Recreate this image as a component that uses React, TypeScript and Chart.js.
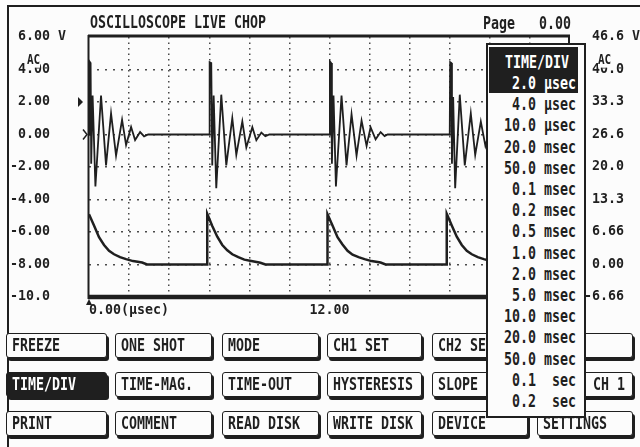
import React, { useEffect, useRef } from 'react';
import { Chart, registerables } from 'chart.js';

Chart.register(...registerables);

// ---------- data ----------
// CH1: ringing after each chop pulse (left axis, volts), time in µs
const ch1Times = [
  0, 0.02, 0.08, 0.11, 0.18, 0.32, 0.6, 0.85, 1.1, 1.35, 1.65, 1.85, 2.1, 2.3, 2.55, 2.75, 2.95,
  6.0, 6.02, 6.1, 6.15, 6.22, 6.35, 6.6, 6.85, 7.15, 7.35, 7.65, 7.85, 8.15, 8.35, 8.6, 8.8, 9.0,
  12.0, 12.02, 12.08, 12.12, 12.2, 12.32, 12.6, 12.85, 13.1, 13.35, 13.6, 13.85, 14.05, 14.3, 14.55, 14.75, 14.9,
  18.0, 18.02, 18.08, 18.11, 18.17, 18.27, 18.5, 18.75, 19.05, 19.27, 19.55, 19.78, 20.05, 20.25, 20.5, 20.7, 20.9, 24.0,
];
const ch1Volts = [
  0, 4.5, 4.4, -1.8, 2.4, -3.2, 2.4, -1.9, 1.3, -1.3, 0.9, -0.65, 0.46, -0.34, 0.15, -0.12, 0,
  0, 4.45, 4.4, -1.9, 2.4, -3.3, 2.45, -1.9, 1.0, -1.25, 0.8, -0.8, 0.45, -0.35, 0.12, -0.1, 0,
  0, 4.5, 4.4, -1.8, 2.4, -3.2, 2.4, -1.9, 1.25, -1.3, 0.85, -0.7, 0.45, -0.3, 0.15, -0.1, 0,
  0, 4.45, 4.4, -1.8, 2.3, -3.3, 2.45, -1.9, 1.3, -1.25, 0.8, -0.7, 0.45, -0.35, 0.15, -0.1, 0, 0,
];
// CH2: decaying chop voltage (right axis, volts), time in µs
const ch2Times = [
  0, 0.25, 0.5, 0.75, 1.0, 1.25, 1.55, 1.85, 2.2, 2.65, 2.9, 5.9,
  5.9, 6.15, 6.4, 6.65, 6.9, 7.15, 7.45, 7.75, 8.1, 8.55, 8.8, 11.9,
  11.9, 12.15, 12.4, 12.65, 12.9, 13.15, 13.45, 13.75, 14.1, 14.55, 14.8, 17.85,
  17.85, 18.1, 18.35, 18.6, 18.85, 19.1, 19.4, 19.7, 20.05, 20.5, 20.75, 24.0,
];
const ch2Volts = [
  10.3, 8.0, 5.6, 4.0, 2.8, 2.1, 1.5, 1.1, 0.7, 0.4, 0, 0,
  10.4, 7.9, 5.7, 4.0, 2.9, 2.1, 1.5, 1.0, 0.7, 0.35, 0, 0,
  10.3, 8.0, 5.6, 4.1, 2.8, 2.0, 1.5, 1.1, 0.7, 0.4, 0, 0,
  10.4, 8.0, 5.7, 4.0, 2.8, 2.1, 1.5, 1.1, 0.7, 0.4, 0, 0,
];
const xTickValues = [0, 2, 4, 6, 8, 10, 12, 14, 16, 18, 20, 22, 24];
const xTickLabels = ['0.00(\u00b5sec)', '', '', '', '', '', '12.00', '', '', '', '', '', ''];
const leftTickValues = [-10, -8, -6, -4, -2, 0, 2, 4, 6];
const leftTickLabels = ['-10.0', '-8.00', '-6.00', '-4.00', '-2.00', ' 0.00', ' 2.00', ' 4.00', ' 6.00 V'];
const rightTickValues = [-6.66, 0, 6.66, 13.32, 19.98, 26.64, 33.3, 39.96, 46.62];
const rightTickLabels = ['-6.66', ' 0.00', ' 6.66', ' 13.3', ' 20.0', ' 26.6', ' 33.3', ' 40.0', ' 46.6 V'];
const ch1TriggerLevel = 2.0;
const triggerTime = 0;
const timeDivOptions = [
  ' 2.0 \u00b5sec', ' 4.0 \u00b5sec', '10.0 \u00b5sec', '20.0 msec', '50.0 msec', ' 0.1 msec', ' 0.2 msec',
  ' 0.5 msec', ' 1.0 msec', ' 2.0 msec', ' 5.0 msec', '10.0 msec', '20.0 msec', '50.0 msec', ' 0.1  sec', ' 0.2  sec',
];
const buttonRows = [
  ['FREEZE', 'ONE SHOT', 'MODE', 'CH1 SET', 'CH2 SET', ''],
  ['TIME/DIV', 'TIME-MAG.', 'TIME-OUT', 'HYSTERESIS', 'SLOPE', 'CH 1'],
  ['PRINT', 'COMMENT', 'READ DISK', 'WRITE DISK', 'DEVICE', 'SETTINGS'],
];

// ---------- styles ----------
const INK = '#1f1f1f';
const BG = '#fcfcfc';
const GRID = '#4a4a4a';
const MONO = '"DejaVu Sans Mono", "Liberation Mono", monospace';
const TICK_FONT = { family: MONO, size: 13.3, weight: 'bold' as const };

type TP = { left?: number; right?: number; cy: number; text: string; color?: string; size?: number; sy?: number; bg?: string };
function Txt({ left, right, cy, text, color = INK, size = 13.3, sy = 1.35, bg }: TP) {
  const h = Math.round(size * 1.2);
  const st: React.CSSProperties = {
    position: 'absolute', top: cy - h / 2, height: h, lineHeight: h + 'px', fontFamily: MONO,
    fontWeight: 700, fontSize: size, color, whiteSpace: 'pre', transform: `scaleY(${sy})`,
    transformOrigin: '50% 50%', background: bg, margin: 0, padding: 0,
  };
  if (left !== undefined) st.left = left;
  if (right !== undefined) st.right = right;
  return <div style={st}>{text}</div>;
}

const colLefts = [6, 115, 222, 327, 432, 537];
const colWidths = [101, 97, 97, 95, 96, 96];
const rowTops = [333, 372, 411];

function Btn({ x, y, w, label, inv, alignRight }: { x: number; y: number; w: number; label: string; inv?: boolean; alignRight?: boolean }) {
  return (
    <div style={{
      position: 'absolute', left: x, top: y, width: w, height: 25, boxSizing: 'border-box',
      border: `1.5px solid ${INK}`, borderRadius: 3, boxShadow: `2px 3px 0 ${INK}`, background: inv ? INK : BG,
    }}>
      {label && (alignRight
        ? <Txt right={7} cy={11.5} text={label} color={inv ? '#fff' : INK} />
        : <Txt left={5} cy={11.5} text={label} color={inv ? '#fff' : INK} />)}
    </div>
  );
}

const scopeDecor = {
  id: 'scopeDecor',
  afterDatasetsDraw(chart: any) {
    const { ctx, chartArea: a, scales } = chart;
    ctx.save();
    ctx.strokeStyle = INK;
    ctx.fillStyle = INK;
    ctx.lineCap = 'butt';
    // frame
    ctx.lineWidth = 3;
    ctx.beginPath(); ctx.moveTo(a.left - 1, a.top - 1); ctx.lineTo(a.right, a.top - 1); ctx.stroke();
    ctx.lineWidth = 4.5;
    ctx.beginPath(); ctx.moveTo(a.left - 1, a.bottom); ctx.lineTo(a.right, a.bottom); ctx.stroke();
    ctx.lineWidth = 2;
    ctx.beginPath(); ctx.moveTo(a.left - 0.5, a.top - 2); ctx.lineTo(a.left - 0.5, a.bottom + 2); ctx.stroke();
    ctx.beginPath(); ctx.moveTo(a.right - 1, a.top - 2); ctx.lineTo(a.right - 1, a.bottom + 2); ctx.stroke();
    // trigger level marker
    const ty = scales.y.getPixelForValue(ch1TriggerLevel);
    ctx.beginPath(); ctx.moveTo(a.left - 11, ty - 5); ctx.lineTo(a.left - 6, ty); ctx.lineTo(a.left - 11, ty + 5); ctx.closePath(); ctx.fill();
    // ground marker
    const gy = scales.y.getPixelForValue(0);
    ctx.lineWidth = 1.5;
    ctx.beginPath(); ctx.moveTo(a.left - 6, gy - 5); ctx.lineTo(a.left - 2, gy); ctx.lineTo(a.left - 6, gy + 5); ctx.stroke();
    // trigger position marker
    const tx = scales.x.getPixelForValue(triggerTime);
    ctx.beginPath(); ctx.moveTo(tx - 3, a.bottom + 8); ctx.lineTo(tx, a.bottom + 2); ctx.lineTo(tx + 3, a.bottom + 8); ctx.closePath(); ctx.fill();
    ctx.restore();
  },
};

export default function App() {
  const ref = useRef<HTMLCanvasElement | null>(null);
  useEffect(() => {
    if (!ref.current) return;
    const chart = new Chart(ref.current, {
      type: 'line',
      data: {
        datasets: [
          {
            label: 'CH1', yAxisID: 'y',
            data: ch1Times.map((t, i) => ({ x: t, y: ch1Volts[i] })),
            borderColor: INK, borderWidth: 1.8, pointRadius: 0, tension: 0, fill: false,
          },
          {
            label: 'CH2', yAxisID: 'y2',
            data: ch2Times.map((t, i) => ({ x: t, y: ch2Volts[i] })),
            borderColor: INK, borderWidth: 2.5, pointRadius: 0, tension: 0, fill: false,
          },
        ],
      },
      options: {
        animation: false,
        responsive: false,
        devicePixelRatio: 1,
        layout: { padding: { left: 10, right: 0, top: 37, bottom: 110 } },
        plugins: { legend: { display: false }, tooltip: { enabled: false }, title: { display: false } },
        scales: {
          x: {
            type: 'linear', min: 0, max: 24,
            afterBuildTicks: (s: any) => { s.ticks = xTickValues.map((v) => ({ value: v })); },
            afterFit: (s: any) => { s.height = 40; },
            ticks: {
              autoSkip: false, maxRotation: 0, minRotation: 0, align: 'inner', padding: 6,
              color: INK, font: TICK_FONT, callback: (_v: any, i: number) => xTickLabels[i],
            },
            grid: {
              color: (c: any) => (c.tick && (c.tick.value === 0 || c.tick.value === 24)) ? 'rgba(0,0,0,0)' : GRID,
              lineWidth: 1.5, drawTicks: false,
            },
            border: { display: false, dash: [1.5, 4] },
          },
          y: {
            type: 'linear', position: 'left', min: -10, max: 6,
            afterBuildTicks: (s: any) => { s.ticks = leftTickValues.map((v) => ({ value: v })); },
            afterFit: (s: any) => { s.width = 79; },
            ticks: {
              crossAlign: 'far', padding: 0, color: INK, font: TICK_FONT,
              callback: (_v: any, i: number) => leftTickLabels[i],
            },
            grid: {
              color: (c: any) => (c.tick && (c.tick.value === -10 || c.tick.value === 6)) ? 'rgba(0,0,0,0)' : GRID,
              lineWidth: 1.5, drawTicks: false,
            },
            border: { display: false, dash: [2, 6] },
          },
          y2: {
            type: 'linear', position: 'right', min: -6.66, max: 46.62,
            afterBuildTicks: (s: any) => { s.ticks = rightTickValues.map((v) => ({ value: v })); },
            afterFit: (s: any) => { s.width = 70; },
            ticks: {
              crossAlign: 'near', padding: 14, color: INK, font: TICK_FONT,
              callback: (_v: any, i: number) => rightTickLabels[i],
            },
            grid: { display: false, drawTicks: false },
            border: { display: false },
          },
        },
      } as any,
      plugins: [scopeDecor],
    });
    return () => chart.destroy();
  }, []);

  return (
    <div style={{ position: 'fixed', left: 0, top: 0, width: 640, height: 447, background: BG, overflow: 'hidden' }}>
      {/* screen bezel */}
      <div style={{ position: 'absolute', left: 7, top: 5, width: 640, height: 450, borderTop: `2px solid ${INK}`, borderLeft: `2px solid ${INK}` }} />
      <canvas ref={ref} width={640} height={447} style={{ position: 'absolute', left: 0, top: 0, width: 640, height: 447 }} />
      <Txt left={90} cy={23} text="OSCILLOSCOPE LIVE CHOP" />
      <Txt left={483} cy={24} text={'Page   0.00'} />
      <Txt left={27} cy={59} text="AC" size={11} sy={1.25} bg={BG} />
      <Txt left={598} cy={59} text="AC" size={11} sy={1.25} bg={BG} />
      {buttonRows.map((row, r) => row.map((label, c) => (
        <Btn key={`${r}-${c}`} x={colLefts[c]} y={rowTops[r]} w={colWidths[c]} label={label}
          inv={r === 1 && c === 0} alignRight={r === 1 && c === 5} />
      )))}
      {/* TIME/DIV pop-up menu */}
      <div style={{ position: 'absolute', left: 486, top: 43, width: 100, height: 375, boxSizing: 'border-box', border: `2px solid ${INK}`, background: BG }} />
      <div style={{ position: 'absolute', left: 489, top: 47, width: 89, height: 46, background: INK }} />
      <Txt left={505} cy={63} text="TIME/DIV" color="#fff" />
      {timeDivOptions.map((t, i) => (
        <Txt key={i} right={640 - 576} cy={84 + i * 21.2} text={t} color={i === 0 ? '#fff' : INK} />
      ))}
    </div>
  );
}
